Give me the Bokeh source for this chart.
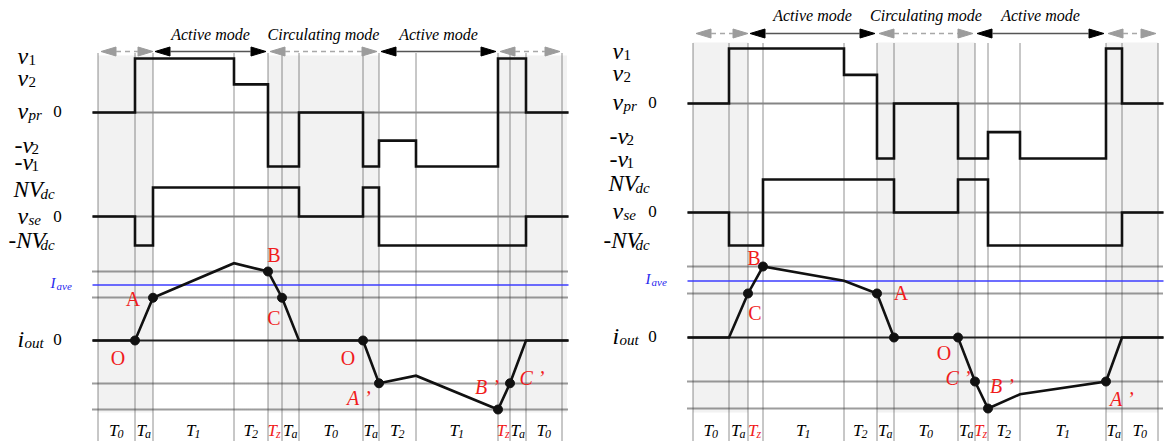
from collections import defaultdict
from itertools import accumulate

from bokeh.plotting import figure
from bokeh.models import Range1d
from bokeh.core.properties import value
from bokeh.embed import file_html
from bokeh.resources import INLINE

FONT = "Liberation Serif"

# ---------------- data: switching sequence, left case ----------------
names_a = ["T0", "Ta", "T1", "T2", "Tz", "Ta", "T0", "Ta", "T2", "T1", "Tz", "Ta", "T0"]
durations_a = [37, 18, 81, 34, 14, 17, 64, 16, 37, 82, 12, 16, 36]
vpr_a = [0, 1, 1, 0.52, -1, -1, 0, -1, -0.52, -1, 1, 1, 0]        # in units of v1
vse_a = [0, -1, 1, 1, 1, 1, 0, 1, -1, -1, -1, -1, 0]               # in units of NVdc
iout_a = [0, 0, 0.62, 1.12, 1.0, 0.62, 0, 0, -0.62, -0.51, -1.0, -0.62, 0, 0]  # at boundaries
iave_a = 0.81
points_a = ["", "O", "A", "", "B", "C", "", "O", "A ’", "", "B ’", "C ’", "", ""]
modes_a = [(0, 2, ""), (2, 4, "Active mode"), (4, 8, "Circulating mode"),
           (8, 10, "Active mode"), (10, 13, "")]

# ---------------- data: switching sequence, right case ----------------
names_b = ["T0", "Ta", "Tz", "T1", "T2", "Ta", "T0", "Ta", "Tz", "T2", "T1", "Ta", "T0"]
durations_b = [36, 19, 15, 81, 33, 17, 64, 17, 13, 32, 86, 16, 36]
vpr_b = [0, 1, 1, 1, 0.52, -1, 0, -1, -1, -0.52, -1, 1, 0]
vse_b = [0, -1, -1, 1, 1, 1, 0, 1, 1, -1, -1, -1, 0]
iout_b = [0, 0, 0.62, 1.0, 0.8, 0.62, 0, 0, -0.62, -1.0, -0.8, -0.62, 0, 0]
iave_b = 0.80
points_b = ["", "", "C", "B", "", "A", "", "O", "C ’", "B ’", "", "A ’", "", ""]
zero_dot_b = [6]
modes_b = [(0, 2, ""), (2, 5, "Active mode"), (5, 8, "Circulating mode"),
           (8, 11, "Active mode"), (11, 13, "")]

# ---------------- layout of the two panels ----------------
panel_a = dict(x0=97, ox=0, vpr0=112, vpr_k=54, vse0=216, vse_k=29, i0=340, i_k=69,
               arrow_y=51, mode_y=41, top=55, vtop=53, left=92, right=568,
               lab=dict(v1=62, v2=84, vpr=117, mv2=151, mv1=168, nv=196, vse=222,
                        mnv=247, iave=289, iout=345),
               pt_off={1: (-17, 17), 2: (-20, 1), 4: (6, -17), 5: (-8, 20), 7: (-15, 17),
                       8: (-20, 15), 10: (-11, -23), 11: (22, -5)},
               shade_right_pad=5)
panel_b = dict(x0=692, ox=595, vpr0=103, vpr_k=55, vse0=212, vse_k=33, i0=337, i_k=71,
               arrow_y=33, mode_y=22, top=42, vtop=43, left=687, right=1163,
               lab=dict(v1=57, v2=79, vpr=108, mv2=142, mv1=165, nv=190, vse=217,
                        mnv=247, iave=285, iout=342),
               pt_off={2: (7, 20), 3: (-9, -9), 5: (24, 0), 7: (-14, 15),
                       8: (-17, -4), 9: (14, -23), 11: (16, 17)},
               shade_right_pad=0)

TEXT_LIFT = 7  # alphabetic baseline correction for the SVG renderer

p = figure(width=1165, height=446, x_range=Range1d(0, 1165), y_range=Range1d(446, 0),
           output_backend="svg", toolbar_location=None, min_border=0)
p.axis.visible = False
p.grid.visible = False
p.outline_line_color = None
p.background_fill_color = "white"

texts = defaultdict(lambda: {"x": [], "y": [], "t": []})


def put(x, y, t, size, style="italic", color="black", align="left"):
    g = texts[(size, style, color, align)]
    g["x"].append(x)
    g["y"].append(y - TEXT_LIFT)
    g["t"].append(t)


def step_path(bounds, levels, base, k, left, right):
    xs, ys = [left], [base - k * levels[0]]
    for i, lv in enumerate(levels):
        xs += [bounds[i], bounds[i + 1]]
        ys += [base - k * lv, base - k * lv]
    xs.append(right)
    ys.append(base - k * levels[-1])
    return xs, ys


def draw_panel(L, names, durs, vpr, vse, iout, iave, pts, modes, extra_dots=()):
    b = [L["x0"] + 0.5] + [L["x0"] + 0.5 + s for s in accumulate(durs)]
    left, right = L["left"], L["right"]

    # shaded (circulating / freewheeling) stretches
    for s, e, label in modes:
        if label != "Active mode":
            pad = L["shade_right_pad"] if e == len(durs) else 0
            p.quad(left=b[s], right=b[e] + pad, top=L["top"], bottom=412,
                   fill_color="#f2f2f2", line_color=None)

    # vertical interval boundaries
    p.segment(x0=b, x1=b, y0=[L["vtop"]] * len(b), y1=[441] * len(b),
              line_color="#222222", line_width=1, line_dash="1 1")

    # horizontal reference levels of the current
    for lv in (1.0, 0.62, -0.62, -1.0):
        y = round(L["i0"] - L["i_k"] * lv)
        p.line([left, right], [y, y], line_color="#3a3a3a", line_width=2, line_dash="1 1")
    yave = round(L["i0"] - L["i_k"] * iave) + 0.5
    p.line([left, right], [yave, yave], line_color="#3c3cff", line_width=1.5)

    # zero axes
    for y0, col in ((L["vpr0"], "#858585"), (L["vse0"], "#858585"), (L["i0"], "#222222")):
        p.line([left, right], [y0, y0], line_color=col, line_width=2)

    # voltage waveforms
    xs, ys = step_path(b, vpr, L["vpr0"], L["vpr_k"], left, right)
    p.line(xs, ys, line_color="#111111", line_width=2.6, line_join="miter")
    xs, ys = step_path(b, vse, L["vse0"], L["vse_k"], left, right)
    p.line(xs, ys, line_color="#111111", line_width=2.6, line_join="miter")

    # output current
    ci = [L["i0"] - L["i_k"] * v for v in iout]
    p.line([left] + b + [right], [ci[0]] + ci + [ci[-1]], line_color="#111111",
           line_width=2.6, line_join="miter")

    dot_idx = [i for i, t in enumerate(pts) if t] + list(extra_dots)
    p.scatter([b[i] for i in dot_idx], [ci[i] for i in dot_idx], size=9,
              fill_color="#111111", line_color="#111111")
    for i, t in enumerate(pts):
        if not t:
            continue
        dx, dy = L["pt_off"][i]
        style = "italic" if "’" in t else "normal"
        put(b[i] + dx, ci[i] + dy + 7, t, 20, style, "#f01c1c", "center")

    # mode arrows
    ay = L["arrow_y"]
    for s, e, label in modes:
        active = label == "Active mode"
        col = "#000000" if active else "#9c9c9c"
        xl = b[s] + (3 if s == 0 else 2)
        xr = b[e] - (0 if s == 0 else 2)
        p.patches([[xl, xl + 15, xl + 15], [xr, xr - 15, xr - 15]],
                  [[ay, ay - 4.5, ay + 4.5], [ay, ay - 4.5, ay + 4.5]],
                  fill_color=col, line_color=col)
        if active:
            p.line([xl + 15, xr - 15], [ay, ay], line_color="#555555", line_width=1.5)
        else:
            p.line([xl + 15, xr - 15], [ay, ay], line_color="#a8a8a8", line_width=1.5,
                   line_dash="5 4")
        if label:
            put((b[s] + b[e]) / 2, L["mode_y"], label, 16, "italic", "black", "center")

    # interval names
    for i, n in enumerate(names):
        c = (b[i] + b[i + 1]) / 2
        col = "#f01c1c" if n == "Tz" else "black"
        put(c + 2, 437, n[0], 17, "italic", col, "right")
        put(c + 1, 440, n[1:], 12, "italic", col, "left")

    # signal names on the left
    ox, lab = L["ox"], L["lab"]
    put(ox + 17, lab["v1"], "v", 24)
    put(ox + 28, lab["v1"] + 4, "1", 15, "normal")
    put(ox + 17, lab["v2"], "v", 24)
    put(ox + 28, lab["v2"] + 4, "2", 15, "normal")
    put(ox + 17, lab["vpr"], "v", 24)
    put(ox + 28, lab["vpr"] + 4, "pr", 15)
    put(ox + 57, lab["vpr"] + 1, "0", 17, "normal", "black", "center")
    put(ox + 14, lab["mv2"], "-v", 24)
    put(ox + 31, lab["mv2"] + 4, "2", 15, "normal")
    put(ox + 14, lab["mv1"], "-v", 24)
    put(ox + 31, lab["mv1"] + 4, "1", 15, "normal")
    put(ox + 13, lab["nv"], "NV", 23)
    put(ox + 40, lab["nv"] + 4, "dc", 15)
    put(ox + 17, lab["vse"], "v", 24)
    put(ox + 28, lab["vse"] + 4, "se", 15)
    put(ox + 57, lab["vse"] + 1, "0", 17, "normal", "black", "center")
    put(ox + 8, lab["mnv"], "-NV", 23)
    put(ox + 40, lab["mnv"] + 4, "dc", 15)
    put(ox + 50, lab["iave"], "I", 15, "italic", "#2626ee")
    put(ox + 56, lab["iave"] + 3, "ave", 11, "italic", "#2626ee")
    put(ox + 17, lab["iout"], "i", 24)
    put(ox + 24, lab["iout"] + 4, "out", 15)
    put(ox + 57, lab["iout"] + 1, "0", 17, "normal", "black", "center")


draw_panel(panel_a, names_a, durations_a, vpr_a, vse_a, iout_a, iave_a, points_a, modes_a)
draw_panel(panel_b, names_b, durations_b, vpr_b, vse_b, iout_b, iave_b, points_b, modes_b,
           extra_dots=zero_dot_b)

for (size, style, color, align), g in texts.items():
    p.text(x=g["x"], y=g["y"], text=g["t"], text_font=value(FONT),
           text_font_size=f"{size}px", text_font_style=style, text_color=color,
           text_align=align, text_baseline="alphabetic")

open("out.html", "w").write(file_html(p, INLINE))
